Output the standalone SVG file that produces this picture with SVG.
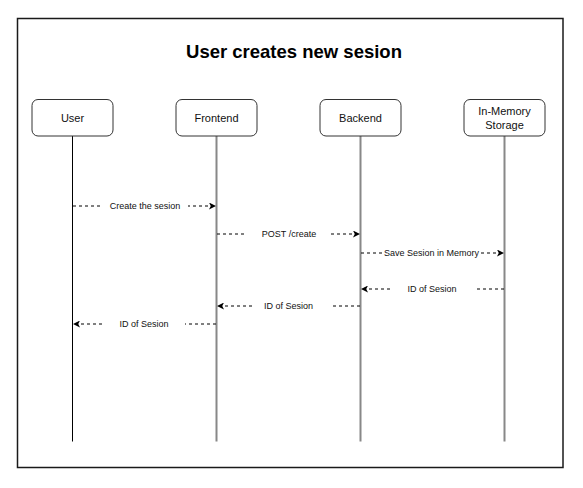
<svg xmlns="http://www.w3.org/2000/svg" width="583" height="488" viewBox="0 0 583 488">
<style>
.frame{fill:#fff;stroke:#1a1a1a;stroke-width:1.5}
.box{fill:#fff;stroke:#333;stroke-width:1}
.lbl{font-family:"Liberation Sans",Arial,sans-serif;font-size:11px;fill:#111;text-anchor:middle}
.title{font-family:"Liberation Sans",Arial,sans-serif;font-size:18.5px;font-weight:bold;fill:#000;text-anchor:middle}
.life{stroke:#888;stroke-width:2;fill:none}
.msg{stroke:#000;stroke-width:1;stroke-dasharray:3 3;fill:none}
.mtxt{font-family:"Liberation Sans",Arial,sans-serif;font-size:9px;fill:#111;text-anchor:middle}
.bg{fill:#fff}
</style>
<defs>
<marker id="ah" viewBox="0 0 10 10" refX="10" refY="5" markerWidth="7" markerHeight="7" markerUnits="userSpaceOnUse" orient="auto">
<path d="M0,0 L10,5 L0,10 L2.5,5 Z" fill="#000"/>
</marker>
</defs>
<rect class="frame" x="17.5" y="18.5" width="545.5" height="449"/>
<text class="title" x="294" y="58">User creates new sesion</text>
<g id="lifelines">
<line x1="72.5" y1="136" x2="72.5" y2="441.5" stroke="#000" stroke-width="1"/>
<line class="life" x1="216.5" y1="136" x2="216.5" y2="441.5"/>
<line class="life" x1="360.5" y1="136" x2="360.5" y2="441.5"/>
<line class="life" x1="504.5" y1="136" x2="504.5" y2="441.5"/>
</g>
<g id="user"><rect class="box" x="32" y="99.5" width="81" height="36.5" rx="6"/><text class="lbl" x="72.5" y="121.5">User</text></g>
<g id="frontend"><rect class="box" x="176" y="99.5" width="81" height="36.5" rx="6"/><text class="lbl" x="216.5" y="121.5">Frontend</text></g>
<g id="backend"><rect class="box" x="320" y="99.5" width="81" height="36.5" rx="6"/><text class="lbl" x="360.5" y="121.5">Backend</text></g>
<g id="storage"><rect class="box" x="464" y="99.5" width="81" height="36.5" rx="6"/><text class="lbl" x="504.5" y="115">In-Memory</text><text class="lbl" x="504.5" y="129">Storage</text></g>
<g id="connectors">
<line class="msg" x1="73" y1="206" x2="216" y2="206" marker-end="url(#ah)"/>
<rect class="bg" x="102" y="200" width="86" height="12"/>
<text class="mtxt" x="145" y="209">Create the sesion</text>
<line class="msg" x1="217" y1="234" x2="360" y2="234" marker-end="url(#ah)"/>
<rect class="bg" x="246" y="228" width="84" height="12"/>
<text class="mtxt" x="289" y="237">POST /create</text>
<line class="msg" x1="361" y1="253" x2="504" y2="253" marker-end="url(#ah)"/>
<rect class="bg" x="382" y="247" width="99" height="12"/>
<text class="mtxt" x="431.5" y="256">Save Sesion in Memory</text>
<line class="msg" x1="504" y1="289" x2="361" y2="289" marker-end="url(#ah)"/>
<rect class="bg" x="391" y="283" width="83" height="12"/>
<text class="mtxt" x="432" y="292">ID of Sesion</text>
<line class="msg" x1="360" y1="306" x2="217" y2="306" marker-end="url(#ah)"/>
<rect class="bg" x="252" y="300" width="78" height="12"/>
<text class="mtxt" x="288.5" y="309">ID of Sesion</text>
<line class="msg" x1="216" y1="324" x2="73" y2="324" marker-end="url(#ah)"/>
<rect class="bg" x="103" y="318" width="82" height="12"/>
<text class="mtxt" x="144" y="327">ID of Sesion</text>
</g>
</svg>
